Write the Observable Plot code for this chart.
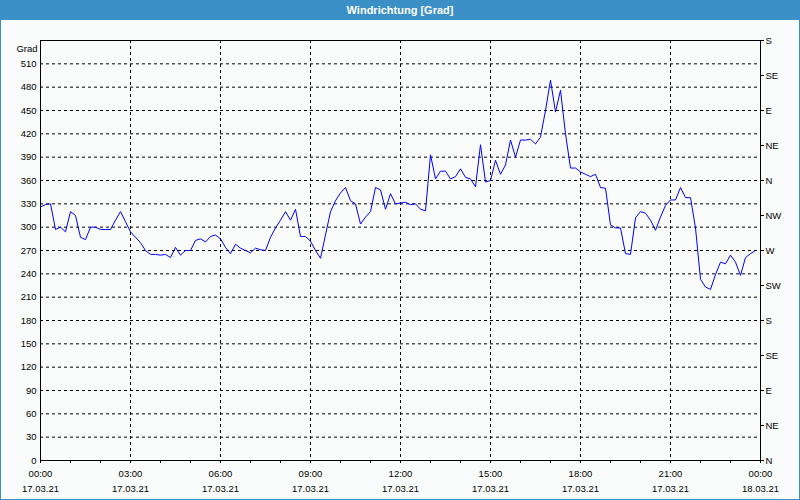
<!DOCTYPE html>
<html><head><meta charset="utf-8">
<script src="https://cdn.jsdelivr.net/npm/d3@7"></script>
<script src="https://cdn.jsdelivr.net/npm/@observablehq/plot@0.6"></script>
<style>
html,body{margin:0;padding:0;background:#fff;}
#wrap{position:relative;width:800px;height:500px;background:#f9fcfa;overflow:hidden;font-family:"Liberation Sans",Arial,sans-serif;}
#title{position:absolute;left:0;top:0;width:800px;height:20px;background:#3b8fc7;color:#fff;font-size:11px;font-weight:bold;text-align:center;line-height:20px;}
#chart{position:absolute;left:0;top:20px;}
.bl{position:absolute;background:#3b8fc7;}
</style></head><body>
<div id="wrap">
  <div id="title">Windrichtung [Grad]</div>
  <div id="chart"></div>
  <div class="bl" style="left:0;top:0;width:1px;height:500px"></div>
  <div class="bl" style="left:799px;top:0;width:1px;height:500px"></div>
  <div class="bl" style="left:0;top:499px;width:800px;height:1px"></div>
</div>
<script>
// Wind direction in degrees, one reading every 10 minutes from 17.03.21 00:00
const startTime = "2021-03-17T00:00";
const endTime = "2021-03-18T00:00";
const stepMinutes = 10;
const directions = [
  326,329,330,297,300,294,320,315,287,284,300,300,297,297,297,309,320,307,294,287,
  280,270,265,265,264,265,261,274,264,270,270,283,285,281,288,290,285,274,266,278,
  273,270,267,273,271,270,287,299,309,320,309,323,288,288,282,270,260,290,320,334,
  344,351,334,330,304,313,320,351,348,323,343,330,331,332,329,330,323,321,393,362,
  372,372,362,365,375,364,362,352,406,358,360,386,368,380,412,390,412,412,413,407,
  416,450,489,448,476,420,376,376,371,368,365,368,351,350,303,299,299,266,265,312,
  320,318,309,296,313,328,335,335,351,338,338,299,233,223,220,239,255,253,264,255,
  238,261,266,270
];
const yTicks = [0,30,60,90,120,150,180,210,240,270,300,330,360,390,420,450,480,510];
const compassTicks = [0,45,90,135,180,225,270,315,360,405,450,495,540];
const compassLabels = ["N","NE","E","SE","S","SW","W","NW","N","NE","E","SE","S"];
const majorTimes = ["2021-03-17T00:00","2021-03-17T03:00","2021-03-17T06:00","2021-03-17T09:00","2021-03-17T12:00","2021-03-17T15:00","2021-03-17T18:00","2021-03-17T21:00","2021-03-18T00:00"];
const yUnit = "Grad";

const parse = d3.utcParse("%Y-%m-%dT%H:%M");
const t0 = parse(startTime), t1 = parse(endTime);
const data = directions.map((v, i) => ({time: d3.utcMinute.offset(t0, i * stepMinutes), value: v}));
const majors = majorTimes.map(parse);
const hourTicks = d3.utcHour.range(t0, d3.utcHour.offset(t1, 1));
const gridX = majors.slice(1, -1);
const gridY = yTicks.slice(1);
const compassMap = new Map(compassTicks.map((d, i) => [d, compassLabels[i]]));

const chart = Plot.plot({
  width: 800, height: 480,
  marginLeft: 40, marginRight: 40, marginTop: 20, marginBottom: 40,
  style: {background: "transparent", fontFamily: "'Liberation Sans', Arial, sans-serif", fontSize: "9.5px", color: "#000"},
  x: {type: "utc", domain: [t0, t1]},
  y: {domain: [0, 540]},
  marks: [
    Plot.ruleY(gridY, {stroke: "#000", strokeDasharray: "3,3", strokeWidth: 1}),
    Plot.ruleX(gridX, {stroke: "#000", strokeDasharray: "3,3", strokeWidth: 1}),
    Plot.line(data, {x: "time", y: "value", stroke: "#0000ff", strokeWidth: 1}),
    Plot.frame({stroke: "#000", strokeWidth: 1}),
    Plot.axisY(yTicks, {anchor: "left", tickSize: 0, tickPadding: 4, label: null, fill: "#000"}),
    Plot.axisY(compassTicks, {anchor: "right", tickSize: 3, tickPadding: 2, label: null, tickFormat: d => compassMap.get(d), fill: "#000"}),
    Plot.axisX(hourTicks, {anchor: "bottom", tickSize: 3, tickFormat: () => "", label: null}),
    Plot.axisX(majors, {anchor: "bottom", tickSize: 0, tickPadding: 10, tickFormat: d3.utcFormat("%H:%M"), label: null, fill: "#000"}),
    Plot.axisX(majors, {anchor: "bottom", tickSize: 0, tickPadding: 25, tickFormat: d3.utcFormat("%d.%m.%y"), label: null, fill: "#000"}),
    Plot.text([yUnit], {frameAnchor: "top-left", dx: -3, dy: 5, textAnchor: "end", fill: "#000"})
  ]
});
document.getElementById("chart").appendChild(chart);
</script>
</body></html>
